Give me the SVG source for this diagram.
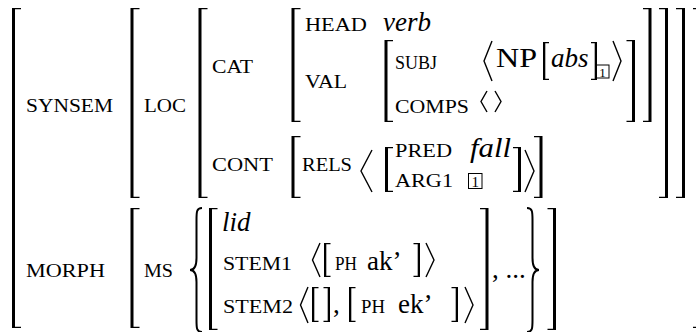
<svg xmlns="http://www.w3.org/2000/svg" width="696" height="332" viewBox="0 0 696 332">
<style>
text{font-family:"Liberation Serif","Times New Roman",serif;fill:#000}
.sc{font-size:19.5px}
.rm{font-size:27px}
.it{font-size:27px;font-style:italic}
.bx{font-size:13px}
.br{fill:#000}
.ang{fill:none;stroke:#000;stroke-width:1.4;stroke-linejoin:miter}
.brc{fill:none;stroke:#000;stroke-width:2}
.box{fill:none;stroke:#000;stroke-width:1}
</style>
<rect width="696" height="332" fill="#fff"/>
<g id="brackets">
<path class="br" d="M12 8H21V9.3H15V326.7H21V328H12Z"/>
<path class="br" d="M130.5 8H139.5V9.3H133.5V196.7H139.5V198H130.5Z"/>
<path class="br" d="M130.5 208H139.5V209.3H133.5V326.7H139.5V328H130.5Z"/>
<path class="br" d="M198.5 8H207.5V9.3H201.5V196.7H207.5V198H198.5Z"/>
<path class="br" d="M291.5 8H300.5V9.3H294.5V120.7H300.5V122H291.5Z"/>
<path class="br" d="M291.5 136H300.5V137.3H294.5V196.7H300.5V198H291.5Z"/>
<path class="br" d="M384.5 40H393V41.3H387.5V120.7H393V122H384.5Z"/>
<path class="br" d="M385 147H393V148.3H388V190.7H393V192H385Z"/>
<path class="br" d="M209 208H217.5V209.3H212V328.7H217.5V330H209Z"/>
<path class="br" d="M635 40V122H626.5V120.7H632V41.3H626.5V40Z"/>
<path class="br" d="M651.5 8V122H643V120.7H648.5V9.3H643V8Z"/>
<path class="br" d="M668 8V198H659V196.7H665V9.3H659V8Z"/>
<path class="br" d="M685 8V198H676V196.7H682V9.3H676V8Z"/>
<path class="br" d="M700 8V328H693V326.7H697V9.3H693V8Z"/>
<path class="br" d="M521 147V192H513V190.7H518V148.3H513V147Z"/>
<path class="br" d="M542.5 136V198H534V196.7H539.5V137.3H534V136Z"/>
<path class="br" d="M488.5 208V330H480V328.7H485.5V209.3H480V208Z"/>
<path class="br" d="M556 208V330H547.5V328.7H553V209.3H547.5V208Z"/>
<path class="br" d="M543 42H549V43.2H545.3V78.8H549V80H543Z"/>
<path class="br" d="M597 42V80H591V78.8H594.7V43.2H591V42Z"/>
<path class="br" d="M324 243H330.5V244.2H326.3V275.8H330.5V277H324Z"/>
<path class="br" d="M420 243V277H413.5V275.8H417.7V244.2H413.5V243Z"/>
<path class="br" d="M312 287H318.5V288.2H314.3V320.8H318.5V322H312Z"/>
<path class="br" d="M330 287V322H323.5V320.8H327.7V288.2H323.5V287Z"/>
<path class="br" d="M349 287H355.5V288.2H351.3V320.8H355.5V322H349Z"/>
<path class="br" d="M458 287V322H451.5V320.8H455.7V288.2H451.5V287Z"/>
</g>
<g id="angles">
<path class="ang" d="M492 41L484 61L492 81"/>
<path class="ang" d="M613 41L621 61L613 81"/>
<path class="ang" d="M487 91L481 101.5L487 112"/>
<path class="ang" d="M495 91L501 101.5L495 112"/>
<path class="ang" d="M372 150L361 171L372 192"/>
<path class="ang" d="M525 150L534 171L525 192"/>
<path class="ang" d="M320 243L312.5 260L320 277"/>
<path class="ang" d="M426 243L434 260L426 277"/>
<path class="ang" d="M308 287L300.5 305L308 323"/>
<path class="ang" d="M465 287L473 305L465 323"/>
</g>
<g id="braces">
<path class="brc" d="M202 208C196.5 208 196.5 212 196.5 220L196.5 258C196.5 266 194 270 190 270C194 270 196.5 274 196.5 282L196.5 320C196.5 328 196.5 332 202 332"/>
<path class="brc" d="M527 208C532.5 208 532.5 212 532.5 220L532.5 258C532.5 266 535 270 539 270C535 270 532.5 274 532.5 282L532.5 320C532.5 328 532.5 332 527 332"/>
</g>
<g id="boxes">
<rect class="box" x="596" y="65" width="13" height="13"/>
<text class="bx" x="602.5" y="76.5" text-anchor="middle">1</text>
<rect class="box" x="468.5" y="173.5" width="13.5" height="15"/>
<text x="475.2" y="186.5" text-anchor="middle" style="font-size:15px">1</text>
</g>
<g id="labels">
<text class="sc" x="26" y="112" textLength="87" lengthAdjust="spacingAndGlyphs">SYNSEM</text>
<text class="sc" x="144" y="112" textLength="42" lengthAdjust="spacingAndGlyphs">LOC</text>
<text class="sc" x="212" y="73" textLength="41" lengthAdjust="spacingAndGlyphs">CAT</text>
<text class="sc" x="305" y="31" textLength="62" lengthAdjust="spacingAndGlyphs">HEAD</text>
<text class="it" x="383" y="31">verb</text>
<text class="sc" x="305" y="88" textLength="42" lengthAdjust="spacingAndGlyphs">VAL</text>
<text class="sc" x="395" y="69" textLength="42" lengthAdjust="spacingAndGlyphs">SUBJ</text>
<text class="rm" x="496" y="67" style="font-size:28px" textLength="41" lengthAdjust="spacingAndGlyphs">NP</text>
<text class="it" x="551" y="67">abs</text>
<text class="sc" x="395" y="113" textLength="74" lengthAdjust="spacingAndGlyphs">COMPS</text>
<text class="sc" x="212" y="171" textLength="61" lengthAdjust="spacingAndGlyphs">CONT</text>
<text class="sc" x="302" y="171" textLength="50" lengthAdjust="spacingAndGlyphs">RELS</text>
<text class="sc" x="395" y="157" textLength="57" lengthAdjust="spacingAndGlyphs">PRED</text>
<text class="it" x="470" y="157" textLength="41" lengthAdjust="spacingAndGlyphs">fall</text>
<text class="sc" x="395" y="187" textLength="58" lengthAdjust="spacingAndGlyphs">ARG1</text>
<text class="sc" x="26" y="277" textLength="79" lengthAdjust="spacingAndGlyphs">MORPH</text>
<text class="sc" x="144" y="277" textLength="29" lengthAdjust="spacingAndGlyphs">MS</text>
<text class="it" x="222" y="231">lid</text>
<text class="sc" x="223" y="270" textLength="69" lengthAdjust="spacingAndGlyphs">STEM1</text>
<text class="sc" x="335" y="270" textLength="22" lengthAdjust="spacingAndGlyphs">PH</text>
<text class="rm" x="367" y="270">ak’</text>
<text class="sc" x="223" y="313" textLength="70" lengthAdjust="spacingAndGlyphs">STEM2</text>
<text class="rm" x="333" y="313">,</text>
<text class="sc" x="361" y="313" textLength="24" lengthAdjust="spacingAndGlyphs">PH</text>
<text class="rm" x="398" y="313">ek’</text>
<text class="rm" x="492" y="278">, ...</text>
</g>
</svg>
